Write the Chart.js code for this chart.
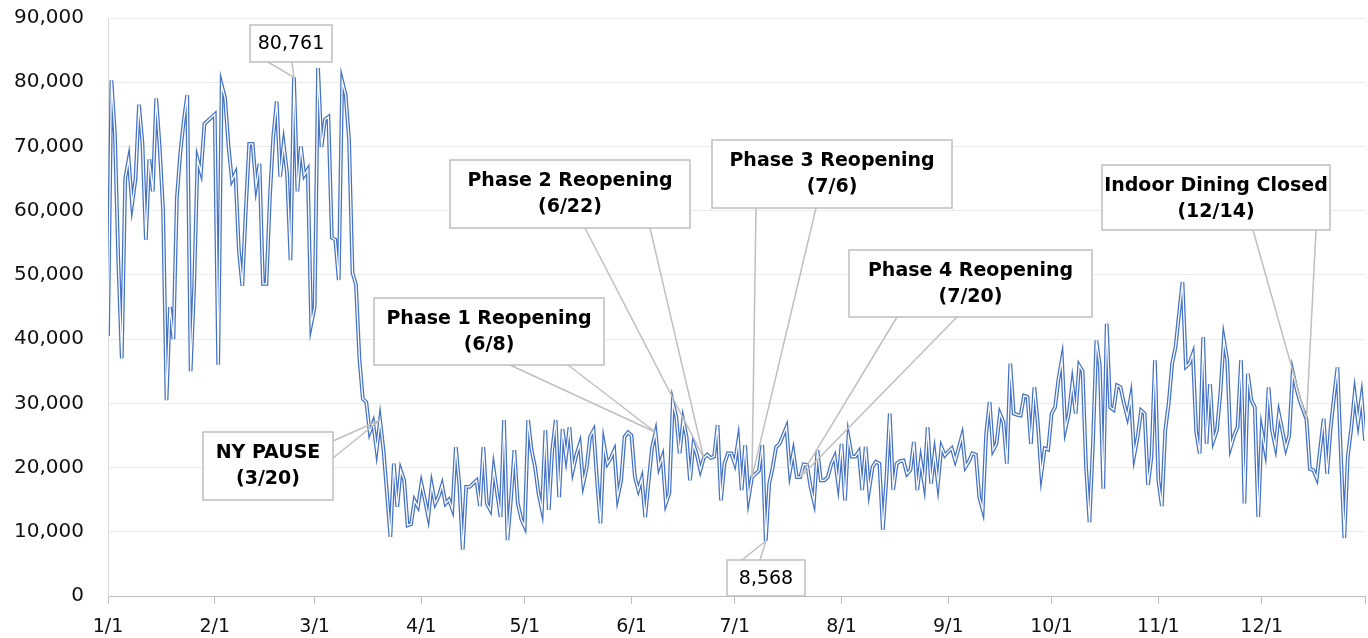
<!DOCTYPE html>
<html>
<head>
<meta charset="utf-8">
<script src="https://cdn.jsdelivr.net/npm/chart.js@4.4.1/dist/chart.umd.min.js"></script>
<style>
  html, body { margin: 0; padding: 0; background: #fff; }
  #wrap { width: 1368px; height: 638px; position: relative; }
</style>
</head>
<body>
<div id="wrap"><canvas id="myChart"></canvas></div>
<script>
//daily values, 1/1 .. 12/31 (day index 0..365)
const counts = [
  40500, 80300, 72000, 52000, 37000, 65000, 68000, 61000, 65000, 76500,
  70500, 55500, 68000, 63000, 77500, 70000, 60000, 30500, 45000, 40000,
  62000, 69000, 74000, 78000, 35000, 48000, 68000, 66000, 73500, 74000,
  74500, 75000, 36000, 79600, 77500, 70000, 64700, 65800, 53800, 48300,
  60000, 70400, 70400, 63800, 67300, 48600, 48600, 62000, 71600, 77000,
  65300, 70400, 65800, 52300, 80761, 63000, 70000, 65500, 66400, 42300,
  45000, 82200, 69900, 74200, 74600, 55800, 55500, 49200, 80200, 78000,
  71000, 50300, 48500, 37000, 30700, 30200, 25500, 27000, 22700, 27400,
  22700, 16000, 9200, 20600, 13900, 19600, 18000, 11000, 11200, 14900,
  13900, 17500, 15000, 12300, 17300, 14400, 15500, 17300, 14400, 15000,
  13500, 23200, 17500, 7200, 17000, 17000, 17500, 18000, 14000, 23200,
  14400, 13400, 19800, 16000, 12300, 27400, 8700, 15000, 22700, 14400,
  12000, 10800, 27400, 22700, 20100, 16000, 13400, 25800, 13400, 22700,
  27400, 15400, 26000, 21700, 26300, 19600, 22000, 23700, 17500, 20000,
  24800, 25800, 18000, 11300, 23700, 20600, 21500, 22700, 15400, 18000,
  24800, 25500, 25000, 18500, 16500, 18300, 12300, 18000, 23200, 25500,
  20100, 21700, 14400, 16000, 30200, 27900, 22200, 27400, 24800, 18000,
  23700, 22000, 19600, 21500, 22000, 21500, 21700, 26600, 14900, 20600,
  22200, 22200, 20600, 24200, 16500, 23500, 15200, 18500, 19000, 19500,
  23500, 8568, 17500, 20000, 23200, 23700, 25000, 26300, 19300, 22400,
  18500, 18500, 20500, 20400, 17000, 14700, 22700, 18000, 18000, 18500,
  20500, 21700, 17500, 23700, 14900, 24800, 21700, 21700, 22500, 16500,
  23200, 16500, 20100, 20900, 20600, 10300, 18000, 28400, 16500, 20600,
  21000, 21100, 19000, 19600, 24000, 16500, 21100, 17500, 26300, 17500,
  22200, 17500, 23200, 21900, 22500, 23000, 21100, 23000, 25000, 20100,
  21000, 22200, 22000, 15400, 13400, 25300, 30200, 22700, 23700, 28400,
  27100, 20600, 36200, 28400, 28200, 28100, 31200, 31000, 23700, 32500,
  26800, 19000, 23000, 22800, 28400, 29400, 33800, 36900, 26000, 28400,
  33100, 28400, 35900, 35000, 20100, 11500, 23700, 39800, 35900, 16700,
  42400, 29400, 29000, 32800, 32500, 30000, 27900, 31000, 21900, 24800,
  28900, 28400, 17300, 21700, 36700, 18000, 14000, 25800, 30000, 36200,
  38800, 43900, 48900, 35700, 36200, 37700, 25500, 22200, 40300, 23700,
  33000, 24200, 25800, 31500, 40000, 36700, 23200, 25000, 26300, 36700,
  14400, 34600, 30500, 29400, 12300, 25800, 22700, 32500, 25800, 23200,
  28400, 25800, 23000, 25000, 34900, 32500, 30500, 29000, 27500, 19800,
  19600, 18300, 23000, 27600, 19000, 26000, 31000, 35600, 22000, 9000,
  21700, 26000, 31500, 27000, 31000, 24200
];

//x axis ticks (day index of each month start)
const monthStarts = [0, 31, 60, 91, 121, 152, 182, 213, 244, 274, 305, 335, 365];
const monthLabels = ['1/1', '2/1', '3/1', '4/1', '5/1', '6/1', '7/1', '8/1', '9/1', '10/1', '11/1', '12/1', ''];
const yTicks = [0, 10000, 20000, 30000, 40000, 50000, 60000, 70000, 80000, 90000];

//callouts
const noteDays = [54, 79, 159, 173, 187, 201, 348, 191];
const noteLabels = [
  ['80,761'],
  ['NY PAUSE', '(3/20)'],
  ['Phase 1 Reopening', '(6/8)'],
  ['Phase 2 Reopening', '(6/22)'],
  ['Phase 3 Reopening', '(7/6)'],
  ['Phase 4 Reopening', '(7/20)'],
  ['Indoor Dining Closed', '(12/14)'],
  ['8,568']
];

//box layout for each callout: [x1, y1, x2, y2], pointer base points
const noteBoxes = [
  { box: [250, 25, 332, 62], base: [[268, 62], [292, 62]], bold: false },
  { box: [203, 432, 333, 500], base: [[333, 441], [333, 458]], bold: true },
  { box: [374, 298, 604, 365], base: [[510, 365], [568, 365]], bold: true },
  { box: [450, 160, 690, 228], base: [[585, 228], [650, 228]], bold: true },
  { box: [712, 140, 952, 208], base: [[756, 208], [816, 208]], bold: true },
  { box: [849, 250, 1092, 317], base: [[897, 317], [957, 317]], bold: true },
  { box: [1102, 165, 1330, 230], base: [[1253, 230], [1316, 230]], bold: true },
  { box: [727, 560, 805, 596], base: [[742, 560], [760, 560]], bold: false }
];

const points = counts.map((v, i) => ({ x: i, y: v }));

const calloutPlugin = {
  id: 'callouts',
  afterDatasetsDraw(chart) {
    const ctx = chart.ctx;
    const xs = chart.scales.x, ys = chart.scales.y;
    ctx.save();
    noteBoxes.forEach((nb, i) => {
      const ax = xs.getPixelForValue(noteDays[i]);
      const ay = ys.getPixelForValue(counts[noteDays[i]]);
      ctx.strokeStyle = '#bfbfbf';
      ctx.lineWidth = 1.5;
      ctx.beginPath();
      nb.base.forEach(p => { ctx.moveTo(p[0], p[1]); ctx.lineTo(ax, ay); });
      ctx.stroke();

      const [x1, y1, x2, y2] = nb.box;
      ctx.fillStyle = '#ffffff';
      ctx.fillRect(x1, y1, x2 - x1, y2 - y1);
      ctx.strokeRect(x1, y1, x2 - x1, y2 - y1);

      ctx.fillStyle = '#000';
      ctx.textAlign = 'center';
      ctx.textBaseline = 'middle';
      ctx.font = (nb.bold ? 'bold ' : '') + '19px "DejaVu Sans"';
      const lines = noteLabels[i];
      const cx = (x1 + x2) / 2;
      if (lines.length === 1) {
        ctx.fillText(lines[0], cx, (y1 + y2) / 2 + 1);
      } else {
        ctx.fillText(lines[0], cx, y1 + 21);
        ctx.fillText(lines[1], cx, y1 + 47);
      }
    });
    ctx.restore();
  }
};

const ctx = document.getElementById('myChart');
const myChart = new Chart(ctx, {
  type: 'line',
  data: {
    datasets: [{
      data: points, //white center of the double line
      borderColor: '#ffffff',
      borderWidth: 1.3,
      pointRadius: 0,
      tension: 0,
      fill: false,
      order: 1
    }, {
      data: points,
      borderColor: '#4472c4',
      borderWidth: 3.8,
      pointRadius: 0,
      tension: 0,
      fill: false,
      order: 2
    }]
  },
  options: {
    responsive: true,
    maintainAspectRatio: false,
    animation: false,
    layout: { autoPadding: false, padding: { top: 18, right: 3, left: 0, bottom: 0 } },
    plugins: { legend: { display: false }, tooltip: { enabled: false } },
    scales: {
      x: {
        type: 'linear',
        min: 0,
        max: 365,
        afterBuildTicks: (s) => { s.ticks = monthStarts.map(v => ({ value: v })); },
        afterFit: (s) => { s.height = 42; s.paddingLeft = 0; s.paddingRight = 0; },
        ticks: {
          autoSkip: false,
          maxRotation: 0,
          padding: 12,
          color: '#111',
          font: { family: '"DejaVu Sans"', size: 19 },
          callback: (v) => monthLabels[monthStarts.indexOf(v)]
        },
        grid: { drawOnChartArea: false, drawTicks: true, tickLength: 8, color: '#bfbfbf' },
        border: { color: '#bfbfbf', width: 1 }
      },
      y: {
        min: 0,
        max: 90000,
        afterBuildTicks: (s) => { s.ticks = yTicks.map(v => ({ value: v })); },
        afterFit: (s) => { s.width = 108; s.paddingTop = 0; s.paddingBottom = 0; },
        ticks: {
          padding: 24,
          color: '#111',
          font: { family: '"DejaVu Sans"', size: 20 },
          callback: (v) => v.toLocaleString('en-US')
        },
        grid: { color: '#ebebeb', drawTicks: false },
        border: { color: '#d9d9d9', width: 1 }
      }
    }
  },
  plugins: [calloutPlugin]
});
</script>
</body>
</html>
